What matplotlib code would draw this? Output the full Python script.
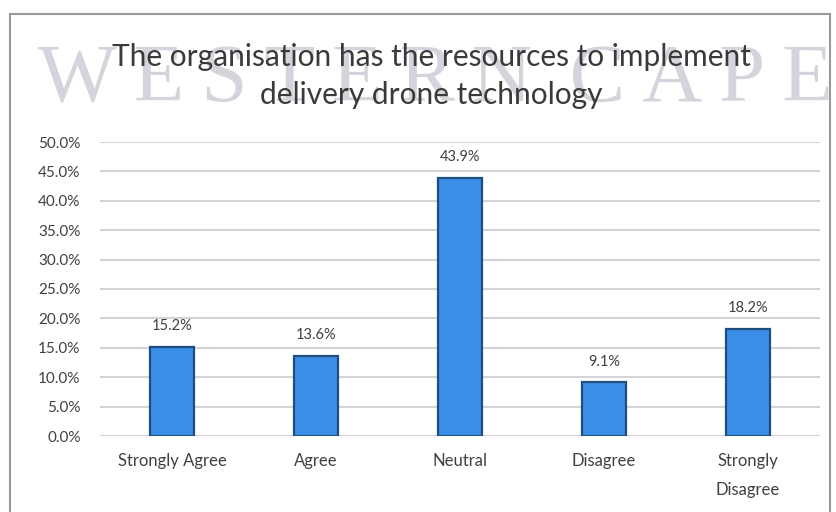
import numpy as np
import matplotlib
matplotlib.use("Agg")
import matplotlib.pyplot as plt
from matplotlib.patches import Rectangle

# survey responses
categories = ["Strongly Agree", "Agree", "Neutral", "Disagree", "Strongly\nDisagree"]
values = [15.2, 13.6, 43.9, 9.1, 18.2]
yticks = [0, 5, 10, 15, 20, 25, 30, 35, 40, 45, 50]

title = "The organisation has the resources to implement\ndelivery drone technology"

plt.rcParams['font.family'] = ['Lato', 'DejaVu Sans']

fig = plt.figure(figsize=(8.37, 5.12), dpi=100)
fig.patch.set_facecolor("white")

# chart border box
fig.patches.append(Rectangle((10/837, -0.05), 820/837, 1.05 - 14/512, transform=fig.transFigure,
                             fill=False, edgecolor="#9a9a9a", linewidth=1.5))

# faint watermark from the source page
fig.text(0.52, 0.84, "W\u2009E\u2009S\u2009T\u2009E\u2009R\u2009N\u2009 C\u2009A\u2009P\u2009E",
         ha="center", va="center", fontsize=60,
         family=["Liberation Serif", "DejaVu Serif"], color="#d4d4dc", zorder=0)

fig.text(0.515, 0.851, title, ha="center", va="center", fontsize=21.5,
         color="#3a3a3a", linespacing=1.45, zorder=2)

ax = fig.add_axes([100/837, 76/512, 720/837, 294/512])
x = np.arange(len(categories))
bars = ax.bar(x, values, width=0.3, color="#3a8ee6", edgecolor="#1d4f80", linewidth=1.6, zorder=3)

for xi, v in zip(x, values):
    ax.annotate("%.1f%%" % v, (xi, v), xytext=(0, 10), textcoords="offset points",
                ha="center", va="bottom", fontsize=10.5, color="#404040")

ax.set_xlim(-0.5, len(categories) - 0.5)
ax.set_ylim(0, 50)
ax.set_yticks(yticks)
ax.set_yticklabels(["%.1f%%" % t for t in yticks], fontsize=11, color="#404040")
ax.set_xticks(x)
ax.set_xticklabels(categories, fontsize=12, color="#404040", linespacing=2.0, va="top")
ax.tick_params(axis="both", length=0)
ax.tick_params(axis="x", pad=12)
ax.tick_params(axis="y", pad=14)
ax.grid(axis="y", color="#d4d4d4", linewidth=1.5, zorder=0)
for s in ax.spines.values():
    s.set_visible(False)
ax.set_facecolor("none")

fig.savefig("out.png", dpi=100)
